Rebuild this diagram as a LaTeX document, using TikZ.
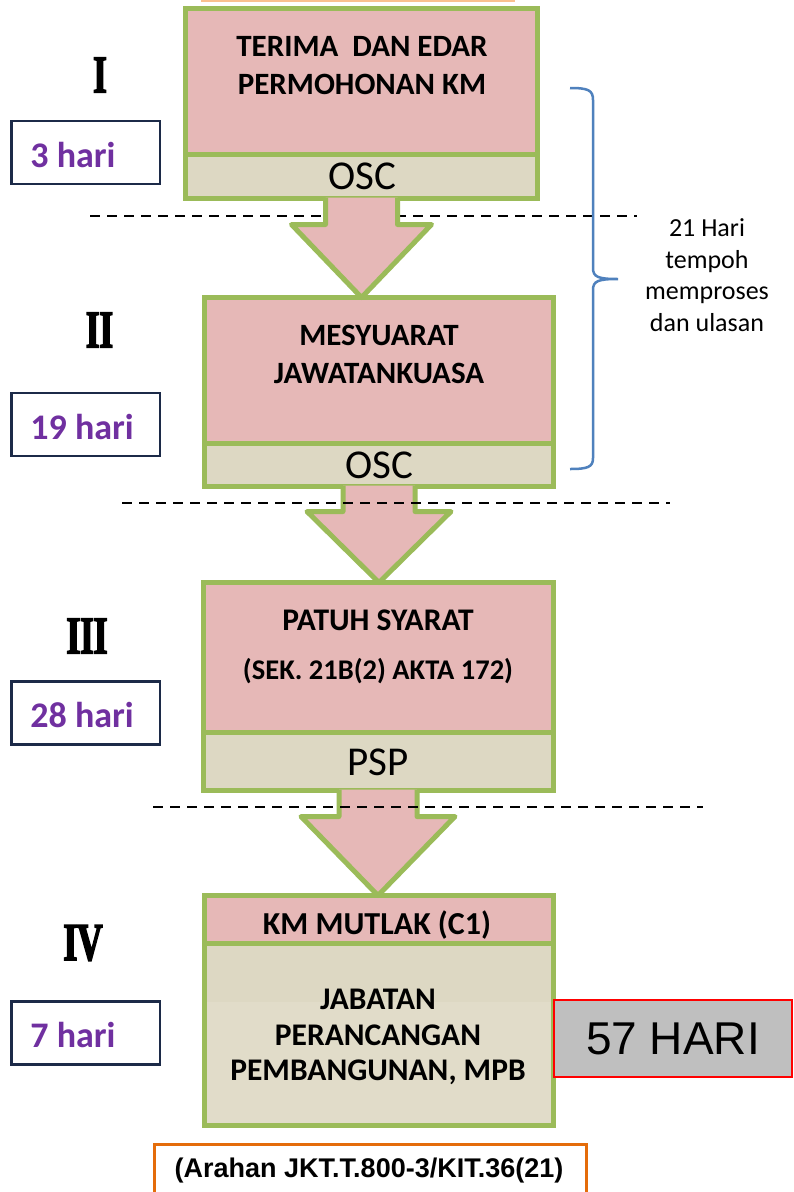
\documentclass[tikz,border=0pt]{standalone}
\usepackage{fontspec}
\newfontfamily\calfont{Carlito}
\newfontfamily\arialfont{Liberation Sans}
\newfontfamily\romanfont[FakeStretch=0.66,RawFeature={embolden=3}]{Liberation Serif}
\usetikzlibrary{calc}
\definecolor{pinkf}{HTML}{E6B8B7}
\definecolor{grn}{HTML}{9BBB59}
\definecolor{beige}{HTML}{DDD8C3}
\definecolor{beigeL}{HTML}{E1DCC9}
\definecolor{navy}{HTML}{1C2A48}
\definecolor{purp}{HTML}{7030A0}
\definecolor{bracec}{HTML}{4F81BD}
\definecolor{orng}{HTML}{E46C0A}
\definecolor{peach}{HTML}{FAC090}
\definecolor{grayf}{HTML}{BFBFBF}
\newcommand\fsz[2]{\fontsize{#1}{#2}\selectfont}
\begin{document}
\begin{tikzpicture}[x=1pt,y=-1pt,
  stagebox/.style={draw=grn,line width=5pt,fill=pinkf,rectangle,inner sep=0pt,outer sep=0pt,anchor=north west},
  bandbox/.style={stagebox,fill=beige},
  titletxt/.style={font=\calfont\bfseries\fsz{31}{38},align=center,inner sep=0pt},
  bandtxt/.style={font=\calfont\fsz{41}{41},inner sep=0pt},
  daybox/.style={draw=navy,line width=2.5pt,fill=white,rectangle,minimum width=148.5pt,minimum height=63pt,inner sep=0pt,outer sep=0pt},
  daytxt/.style={font=\calfont\bfseries\fsz{36}{36},text=purp,inner sep=0pt,anchor=west},
  romantxt/.style={font=\romanfont\bfseries\fsz{53}{53},inner sep=0pt},
  sepline/.style={dash pattern=on 10pt off 7pt,line width=2.5pt,black},
  flow/.style={draw=grn,line width=5pt,fill=pinkf,line join=round},
]
\useasboundingbox (0,0) rectangle (794,1192);
\fill[white] (0,0) rectangle (794,1192);

% faint box edge at the top
\draw[peach,line width=2pt] (202,-10) rectangle (514,0.5);

% stage boxes
\node[stagebox,minimum width=352pt,minimum height=145.5pt] (s1) at (185.5,8.5) {};
\node[bandbox,minimum width=352pt,minimum height=44.5pt] (o1) at (185.5,154) {};
\node[stagebox,minimum width=349pt,minimum height=145.5pt] (s2) at (204.5,297.5) {};
\node[bandbox,minimum width=349pt,minimum height=43.5pt] (o2) at (204.5,443) {};
\node[stagebox,minimum width=350pt,minimum height=149.5pt] (s3) at (203,582.5) {};
\node[bandbox,minimum width=350pt,minimum height=58.5pt] (o3) at (203,732) {};
\node[stagebox,minimum width=349pt,minimum height=47.5pt] (s4) at (204.5,895.5) {};
\node[bandbox,fill=beigeL,minimum width=349pt,minimum height=230pt-47.5pt] (o4) at (204.5,943) {};
\fill[beige] (207,945.5) rectangle (551,1002);

% texts in boxes
\node[titletxt] (t1) at (362,66) {TERIMA\ \ DAN EDAR\\PERMOHONAN KM};
\node[bandtxt] (b1) at (362,176) {OSC};
\node[titletxt] (t2) at (379,354) {MESYUARAT\\JAWATANKUASA};
\node[bandtxt] (b2) at (379,465) {OSC};
\node[titletxt,font=\calfont\bfseries\fsz{31.5}{35}] (t3) at (378,620) {PATUH SYARAT};
\node[titletxt,font=\calfont\bfseries\fsz{28.5}{33}] (t3b) at (378,671) {(SEK. 21B(2) AKTA 172)};
\node[bandtxt] (b3) at (378,762) {PSP};
\node[titletxt,font=\calfont\bfseries\fsz{32}{35}] (t4) at (377,925) {KM MUTLAK (C1)};
\node[titletxt,font=\calfont\bfseries\fsz{31.5}{35.5}] (t4b) at (378,1037) {JABATAN\\PERANCANGAN\\PEMBANGUNAN, MPB};

% separator 1 (under arrow 1)
\draw[sepline] (90,216) -- (637,216);

% arrows
\draw[flow] ($(o1.south)+(-36,-1)$) -- ($(o1.south)+(-36,26)$) -- ($(o1.south)+(-70,26)$)
  -- (o1.south |- s2.north) -- ($(o1.south)+(70,26)$) -- ($(o1.south)+(36,26)$) -- ($(o1.south)+(36,-1)$);
\draw[flow] ($(o2.south)+(-36,-1)$) -- ($(o2.south)+(-36,25)$) -- ($(o2.south)+(-72,25)$)
  -- (o2.south |- s3.north) -- ($(o2.south)+(72,25)$) -- ($(o2.south)+(36,25)$) -- ($(o2.south)+(36,-1)$);
\draw[flow] ($(o3.south)+(-39,-1)$) -- ($(o3.south)+(-39,26)$) -- ($(o3.south)+(-77,26)$)
  -- (o3.south |- s4.north) -- ($(o3.south)+(77,26)$) -- ($(o3.south)+(39,26)$) -- ($(o3.south)+(39,-1)$);

% separators 2 and 3
\draw[sepline] (122,503) -- (670,503);
\draw[sepline] (153,807) -- (703,807);

% roman numerals
\node[romantxt] (r1) at (100,75) {I};
\node[romantxt] (r2) at (99.5,330) {II};
\node[romantxt] (r3) at (87,636) {III};
\node[romantxt] (r4) at (83,943) {IV};

% day boxes
\node[daybox] (d1) at (85.5,152.5) {};
\node[daytxt] (d1t) at ($(d1.west)+(19,2)$) {3 hari};
\node[daybox] (d2) at (85.5,424.5) {};
\node[daytxt] (d2t) at ($(d2.west)+(19,2)$) {19 hari};
\node[daybox] (d3) at (85.5,713) {};
\node[daytxt] (d3t) at ($(d3.west)+(19,2)$) {28 hari};
\node[daybox] (d4) at (85.5,1033) {};
\node[daytxt] (d4t) at ($(d4.west)+(19,2)$) {7 hari};

% brace and its label
\draw[bracec,line width=2.5pt]
  (570,88) .. controls (588,88) and (593,90) .. (593,100) -- (593,268)
  .. controls (593,277) and (598,279) .. (618,279)
  .. controls (598,279) and (593,281) .. (593,290) -- (593,458)
  .. controls (593,467) and (588,469) .. (570,469);
\node[font=\calfont\fsz{26}{31.5},align=center,inner sep=0pt] (br) at (707,275) {21 Hari\\tempoh\\memproses\\dan ulasan};

% total box
\node[draw=red,line width=2.5pt,fill=grayf,minimum width=238pt,minimum height=77pt,inner sep=0pt,
  font=\arialfont\fsz{46}{46}] (tot) at (673,1038.5) {57 HARI};

% reference box at bottom
\draw[orng,line width=2.5pt] (154.5,1144.5) rectangle (586.5,1210);
\node[font=\arialfont\bfseries\fsz{27}{27},inner sep=0pt] (ref) at (369,1171) {(Arahan JKT.T.800-3/KIT.36(21)};
\end{tikzpicture}
\end{document}
